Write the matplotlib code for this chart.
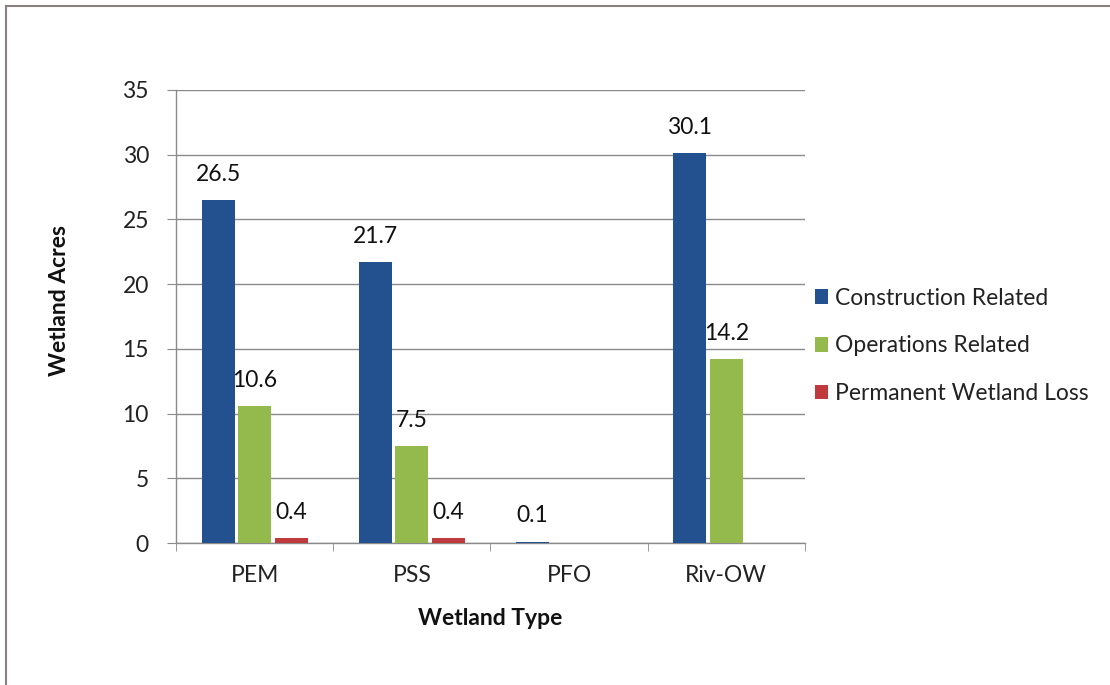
import numpy as np
import matplotlib.pyplot as plt
from matplotlib.lines import Line2D

categories = ["PEM", "PSS", "PFO", "Riv-OW"]
series_names = ["Construction Related", "Operations Related", "Permanent Wetland Loss"]
construction = [26.5, 21.7, 0.1, 30.1]
operations = [10.6, 7.5, None, 14.2]
permanent = [0.4, 0.4, None, None]
yticks = [0, 5, 10, 15, 20, 25, 30, 35]

colors = ["#23508F", "#94BA4E", "#C0393D"]
plt.rcParams['font.family'] = ["Lato", "DejaVu Sans"]
FS = 16.5

fig = plt.figure(figsize=(11.10, 6.85), dpi=100)
ax = fig.add_axes([176 / 1110, 1 - 543 / 685, (805 - 176) / 1110, (543 - 90) / 685])

x = np.arange(len(categories))
width = 0.21
offsets = [-0.232, 0.0, 0.232]
for vals, off, col, name in zip([construction, operations, permanent], offsets, colors, series_names):
    xs = [xi + off for xi, v in zip(x, vals) if v is not None]
    vs = [v for v in vals if v is not None]
    bars = ax.bar(xs, vs, width=width, color=col, label=name, zorder=3)
    for b, v in zip(bars, vs):
        ax.annotate(f"{v:.1f}", (b.get_x() + b.get_width() / 2, v),
                    xytext=(0, 11), textcoords="offset points",
                    ha="center", va="bottom", fontsize=FS, color="#111111", zorder=4)

ax.set_xlim(-0.5, len(categories) - 0.5)
ax.set_ylim(0, 35)
ax.set_yticks(yticks)
ax.set_yticklabels([str(t) for t in yticks], fontsize=FS, color="#222222")
ax.yaxis.grid(True, color="#8a8a8a", linewidth=1.0, zorder=0)
ax.set_axisbelow(True)

ax.set_xticks(x)
ax.set_xticklabels(categories, fontsize=FS, color="#222222")
ax.tick_params(axis="x", length=0, pad=16)
ax.tick_params(axis="y", length=6.5, color="#8a8a8a", pad=13)
# category boundary ticks on the x axis
ax.set_xticks(np.arange(-0.5, len(categories)), minor=True)
ax.tick_params(axis="x", which="minor", length=6, color="#8a8a8a", direction="out")

for s in ["top", "right"]:
    ax.spines[s].set_visible(False)
for s in ["left", "bottom"]:
    ax.spines[s].set_color("#8a8a8a")
    ax.spines[s].set_linewidth(1.0)

# axis titles
fig.text(60 / 1110, 1 - 300 / 685, "Wetland Acres", rotation=90, fontsize=FS,
         fontweight="bold", ha="center", va="center", color="#111111")
ax.set_xlabel("Wetland Type", fontsize=FS, fontweight="bold", va="center", color="#111111")
ax.xaxis.set_label_coords(0.5, -0.166)

leg = ax.legend(loc="center left", bbox_to_anchor=(1.0, 0.435), frameon=False,
                fontsize=FS, handlelength=0.6, handleheight=0.6,
                handletextpad=0.3, labelspacing=1.17, borderaxespad=0.42,
                borderpad=0.0)
for t in leg.get_texts():
    t.set_color("#222222")

# outer frame lines (top and left)
fig.add_artist(Line2D([6 / 1110, 1], [1 - 6 / 685, 1 - 6 / 685], transform=fig.transFigure,
                      color="#8a8080", linewidth=1.5))
fig.add_artist(Line2D([6 / 1110, 6 / 1110], [0, 1 - 6 / 685], transform=fig.transFigure,
                      color="#8a8080", linewidth=1.5))

fig.savefig("out.png", dpi=100)
